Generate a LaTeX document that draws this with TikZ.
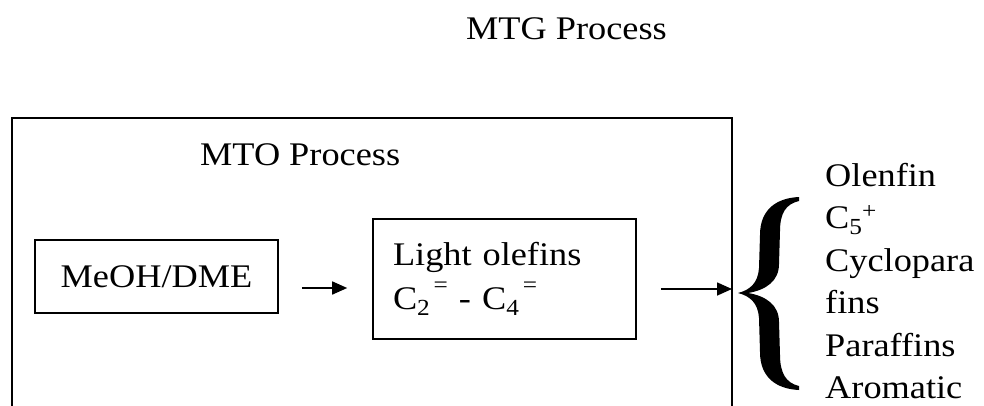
\documentclass[tikz,border=0pt]{standalone}
\usepackage{fontspec}
\setmainfont{Liberation Serif}[FakeStretch=1.1]
\usetikzlibrary{positioning, arrows.meta}

% carbon number with a lowered index and a raised mark
\newcommand{\Cnum}[3]{C\raisebox{-6pt}{\fontsize{23}{23}\selectfont #1}\raisebox{#3}{\fontsize{23}{23}\selectfont #2}}

\begin{document}
\begin{tikzpicture}[x=1pt, y=-1pt,
		txt/.style={font=\fontsize{33}{44}\selectfont, inner sep=0pt},
		stagebox/.style={draw, line width=1.6pt, inner sep=0pt, font=\fontsize{33}{44}\selectfont},
		flow/.style={-{Triangle[length=15pt, width=13pt]}, line width=1.6pt}]
		\def\FrameL{12} % left edge of the MTO frame
		\def\FrameR{732} % right edge of the MTO frame
		\def\FrameT{118}
		
		\useasboundingbox (0,0) rectangle (984,406);
		
		% Titles
		\node[txt, anchor=base east] (mtg) at (667,40) {MTG Process};
		\node[txt, anchor=base west] (mto) at (200,165) {MTO Process};
		
		% MTO frame (open at the bottom)
		\draw[line width=1.6pt] (\FrameL,406) -- (\FrameL,\FrameT) -- (\FrameR,\FrameT) -- (\FrameR,406);
		\coordinate (rim) at (\FrameR,289);
		
		% Stages
		\node[stagebox, minimum width=243pt, minimum height=73pt] (feed) at (156.5,276.5) {MeOH/DME};
		\node[stagebox, minimum width=263pt, minimum height=120pt, align=left, text width=223pt] (light) at (504.5,279)
			{Light olefins\\ \Cnum{2}{\,=}{17pt} - \Cnum{4}{\,=}{17pt}};
		
		% Arrows
		\draw[flow] ([shift={(23,11.5)}]feed.east) -- ([shift={(-25,9)}]light.west);
		\draw[flow] ([shift={(24,10)}]light.east) -- (rim);
		
		% Brace
		\fill (799,197) .. controls (777,198) and (760,209) .. (760,235) -- (759,268)
			.. controls (758,283) and (750,290) .. (738,293)
			.. controls (750,296) and (758,303) .. (759,318) -- (760,352)
			.. controls (760,378) and (777,389) .. (799,390) -- (799,386)
			.. controls (786,383) and (780,373) .. (780,355) -- (779,322)
			.. controls (779,305) and (766,296) .. (748,293)
			.. controls (766,290) and (779,281) .. (779,264) -- (780,231)
			.. controls (780,213) and (786,204) .. (799,201) -- cycle;
		
		% Products
		\node[txt, font=\fontsize{33}{42.4}\selectfont, anchor=north west, align=left] (products) at (825,163)
			{Olenfin\\ \Cnum{5}{+}{10pt}\\ Cyclopara\\ fins\\ Paraffins\\ Aromatic};
	\end{tikzpicture}
\end{document}
